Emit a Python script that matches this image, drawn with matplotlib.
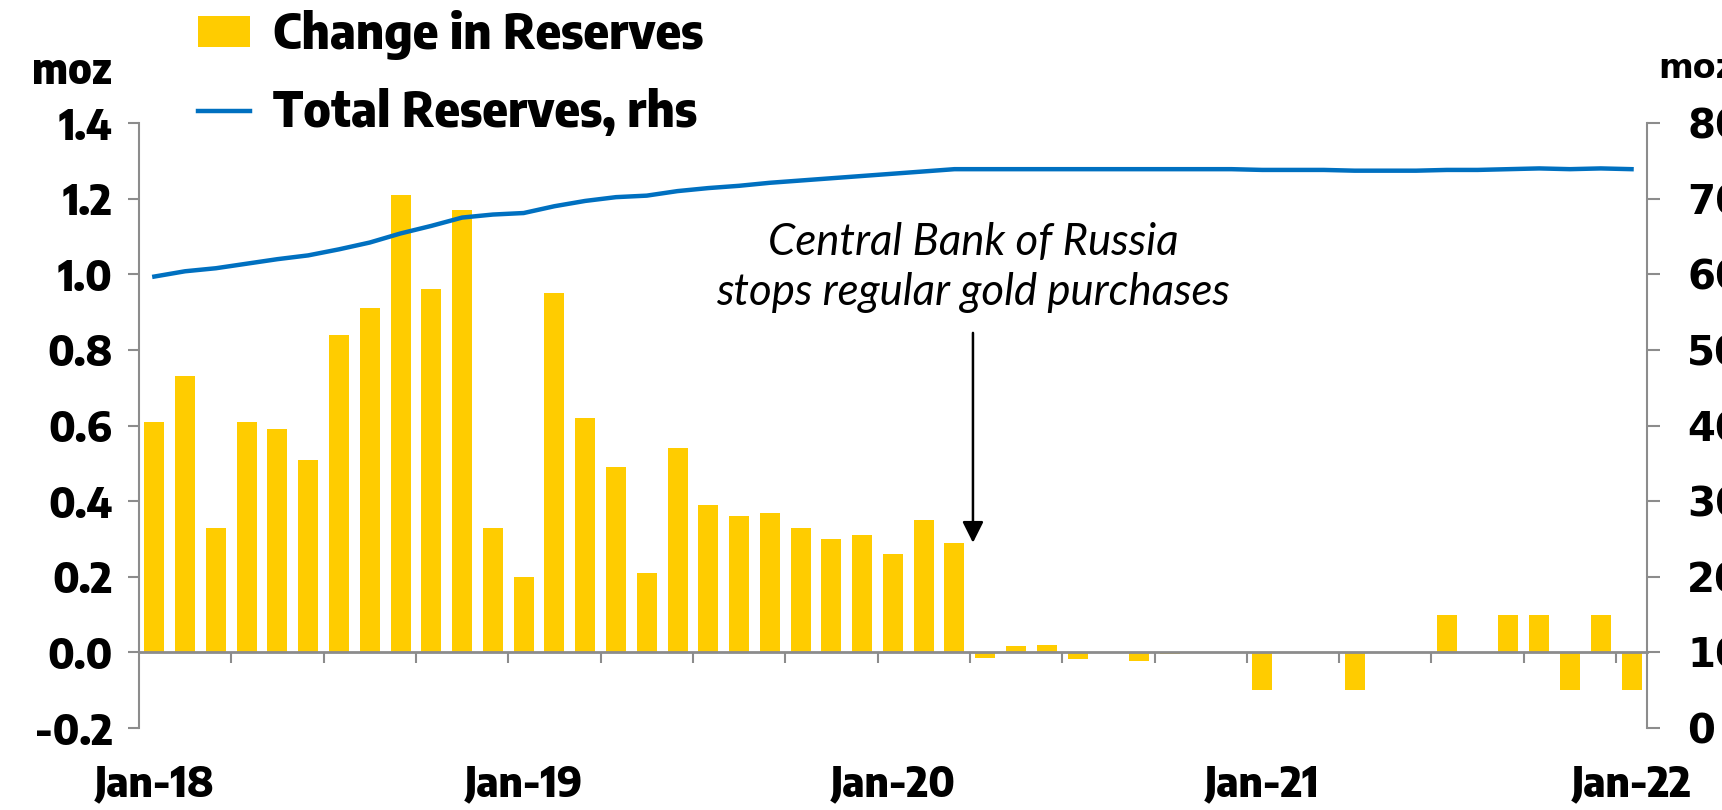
import numpy as np
import pandas as pd
import matplotlib.pyplot as plt
from matplotlib import font_manager
from matplotlib.font_manager import FontProperties
from matplotlib.textpath import TextPath

# Months Jan-18 .. Jan-22
months = pd.date_range("2018-01-01", "2022-01-01", freq="MS")

# Monthly change in reserves (moz), lhs
change = [0.61, 0.73, 0.33, 0.61, 0.59, 0.51, 0.84, 0.91, 1.21, 0.96, 1.17, 0.33,
          0.20, 0.95, 0.62, 0.49, 0.21, 0.54, 0.39, 0.36, 0.37, 0.33, 0.30, 0.31,
          0.26, 0.35, 0.29, -0.015, 0.016, 0.019, -0.017, 0.0, -0.023, -0.003,
          0.0, 0.0, -0.10, 0.0, 0.0, -0.10, 0.0, 0.0, 0.10, 0.0, 0.10, 0.10,
          -0.10, 0.10, -0.10]

# Total reserves (moz), rhs
total = [59.7, 60.4, 60.8, 61.4, 62.0, 62.5, 63.3, 64.2, 65.4, 66.4, 67.5, 67.9,
         68.1, 69.0, 69.7, 70.2, 70.4, 71.0, 71.4, 71.7, 72.1, 72.4, 72.7, 73.0,
         73.3, 73.6, 73.9, 73.9, 73.9, 73.9, 73.9, 73.9, 73.9, 73.9, 73.9, 73.9,
         73.8, 73.8, 73.8, 73.7, 73.7, 73.7, 73.8, 73.8, 73.9, 74.0, 73.9, 74.0,
         73.9]

year_labels = ["Jan-18", "Jan-19", "Jan-20", "Jan-21", "Jan-22"]


# --- pick a bold condensed face whose proportions are closest to the original
def weight_of(e):
    if isinstance(e.weight, int):
        return e.weight
    return font_manager.weight_dict.get(e.weight, 400)


def ext(fname, s):
    return TextPath((0, 0), s, size=100, prop=FontProperties(fname=fname)).get_extents()


cands = [e for e in font_manager.fontManager.ttflist
         if ("Narrow" in e.name or "Condensed" in e.name)
         and e.style == "normal" and 600 <= weight_of(e) <= 800]
best, best_err = None, None
for e in cands:
    try:
        r = ext(e.fname, "Change in Reserves").width / ext(e.fname, "H").height
    except Exception:
        continue
    err = abs(r - 12.3)
    if best is None or err < best_err:
        best, best_err = e, err

if best is not None:
    fname = best.fname
    def gfont(size):
        return FontProperties(fname=fname, size=size)
    cap100 = ext(fname, "H").height
    dig100 = ext(fname, "4").height
    x100 = ext(fname, "x").height
else:
    def gfont(size):
        return FontProperties(family="DejaVu Sans", weight="bold", size=size)
    cap100, dig100, x100 = 72.9, 72.9, 54.7

leg_size = 36 * 100 / cap100 * 0.72
tick_size = 31 * 100 / dig100 * 0.72
moz_size = 23 * 100 / x100 * 0.72

grey = "#8c8c8c"
yellow = "#FFCC00"
blue = "#0070C0"

x = np.arange(len(months))

fig = plt.figure(figsize=(17.22, 8.1), dpi=100)
ax = fig.add_axes([0.0807, 0.1012, 0.8757, 0.7469])

bars = ax.bar(x, change, width=0.65, color=yellow, zorder=2)
ax.set_xlim(-0.5, len(months) - 0.5)
ax.set_ylim(-0.2, 1.4)
ax.set_yticks(np.arange(-0.2, 1.41, 0.2))
ax.set_yticklabels([f"{v:.1f}" for v in np.arange(-0.2, 1.41, 0.2)])
ax.tick_params(axis="y", length=8, width=1.5, color=grey, pad=11)

ax.spines["top"].set_visible(False)
ax.spines["right"].set_visible(False)
ax.spines["left"].set_color(grey)
ax.spines["left"].set_linewidth(1.5)
ax.spines["bottom"].set_position(("data", 0))
ax.spines["bottom"].set_color(grey)
ax.spines["bottom"].set_linewidth(2)
ax.spines["bottom"].set_zorder(3)

# quarter ticks at the zero line, year labels at the bottom
ax.set_xticks(np.arange(2.5, len(months) - 1, 3))
ax.set_xticklabels([])
ax.tick_params(axis="x", which="major", length=8, width=1.5, color=grey)
jan_idx = [i for i, m in enumerate(months) if m.month == 1]
ax.set_xticks(jan_idx, minor=True)
ax.set_xticklabels(year_labels, minor=True)
ax.tick_params(axis="x", which="minor", length=0, pad=80)

for t in ax.get_yticklabels() + ax.get_xticklabels(minor=True):
    t.set_fontproperties(gfont(tick_size))

ax2 = ax.twinx()
line, = ax2.plot(x, total, color=blue, lw=3.2, zorder=3)
ax2.set_ylim(0, 80)
ax2.set_yticks(np.arange(0, 81, 10))
ax2.set_yticklabels([str(v) for v in range(0, 81, 10)], fontweight="bold", fontsize=29)
ax2.tick_params(axis="y", length=9, width=1.5, color=grey, pad=20)
for s in ["top", "bottom", "left"]:
    ax2.spines[s].set_visible(False)
ax2.spines["right"].set_color(grey)
ax2.spines["right"].set_linewidth(1.5)

fig.text(0.042, 0.912, "moz", fontproperties=gfont(moz_size),
         ha="center", va="center")
fig.text(0.963, 0.915, "moz", fontweight="bold", fontsize=24,
         ha="left", va="center")

# annotation
ax.annotate("", xy=(26.6, 0.29), xytext=(26.6, 0.845),
            arrowprops=dict(arrowstyle="-|>", color="black", lw=1.8,
                            mutation_scale=32, shrinkA=0, shrinkB=0))
ax.text(26.6, 1.018, "Central Bank of Russia\nstops regular gold purchases",
        family=["Lato", "DejaVu Sans"], style="italic", fontsize=31.5,
        ha="center", va="center", linespacing=1.27)

# two one-row legends so each row sits where it should
fs_px = leg_size * 100 / 72
rows = [([bars], ["Change in Reserves"], 1 - 34.5 / 810),
        ([line], ["Total Reserves, rhs"], 1 - 113 / 810)]
for h, lab, yy in rows:
    fig.legend(h, lab, loc="center left", bbox_to_anchor=(0.115, yy),
               frameon=False, prop=gfont(leg_size),
               borderpad=0, borderaxespad=0,
               handlelength=52 / fs_px, handleheight=29 / fs_px,
               handletextpad=23 / fs_px)

fig.savefig("out.png", dpi=100)
